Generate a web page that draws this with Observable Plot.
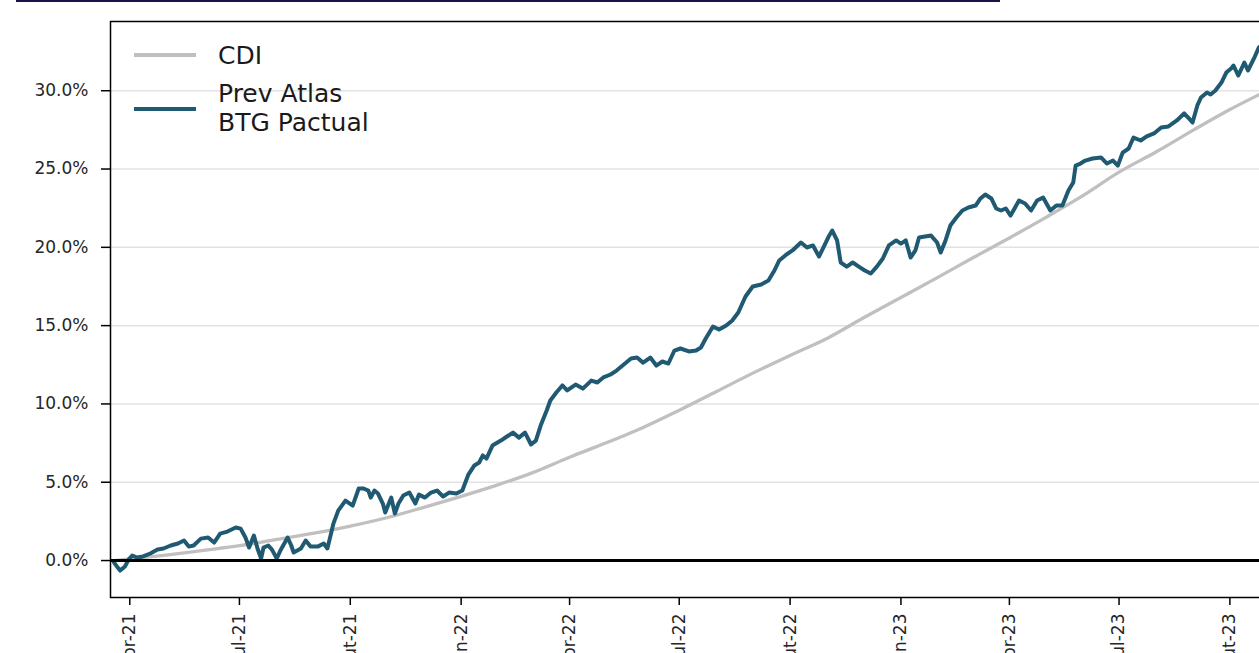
<!DOCTYPE html>
<html><head><meta charset="utf-8">
<script src="https://cdn.jsdelivr.net/npm/d3@7"></script>
<script src="https://cdn.jsdelivr.net/npm/@observablehq/plot@0.6"></script>
<style>
html,body{margin:0;padding:0;overflow:hidden;background:#fff;}
#wrap{position:relative;width:1300px;height:700px;font-family:"DejaVu Sans",sans-serif;}
#titleLine{position:absolute;left:16px;top:0;width:984px;height:2px;background:#1c1048;}
#chart{position:absolute;left:0;top:0;}
.sw{position:absolute;left:134px;width:62px;height:4px;}
.lt{position:absolute;left:218px;font-size:25px;line-height:29px;color:#1a1a1a;white-space:nowrap;}
</style></head><body>
<div id="wrap">
<div id="chart"></div>
<div id="titleLine"></div>
<div class="sw" style="top:53px;background:#c0c0c0"></div>
<div class="lt" style="top:41px">CDI</div>
<div class="sw" style="top:107px;background:#1f5a72"></div>
<div class="lt" style="top:79px">Prev Atlas</div>
<div class="lt" style="top:108px">BTG Pactual</div>
</div>
<script>
const fundDates = ["2021-03-19","2021-03-22","2021-03-24","2021-03-28","2021-03-31","2021-04-03","2021-04-07","2021-04-12","2021-04-18","2021-04-24","2021-04-29","2021-05-05","2021-05-11","2021-05-16","2021-05-20","2021-05-24","2021-05-30","2021-06-05","2021-06-10","2021-06-15","2021-06-21","2021-06-28","2021-07-02","2021-07-06","2021-07-09","2021-07-13","2021-07-16","2021-07-19","2021-07-21","2021-07-25","2021-07-28","2021-08-01","2021-08-04","2021-08-10","2021-08-13","2021-08-15","2021-08-21","2021-08-25","2021-08-29","2021-09-04","2021-09-09","2021-09-12","2021-09-15","2021-09-17","2021-09-21","2021-09-27","2021-10-03","2021-10-08","2021-10-12","2021-10-16","2021-10-18","2021-10-21","2021-10-24","2021-10-28","2021-10-30","2021-11-04","2021-11-07","2021-11-10","2021-11-14","2021-11-19","2021-11-24","2021-11-27","2021-12-02","2021-12-07","2021-12-12","2021-12-17","2021-12-22","2021-12-28","2022-01-02","2022-01-07","2022-01-12","2022-01-16","2022-01-19","2022-01-22","2022-01-27","2022-02-03","2022-02-08","2022-02-13","2022-02-18","2022-02-23","2022-02-28","2022-03-04","2022-03-08","2022-03-13","2022-03-16","2022-03-21","2022-03-26","2022-03-30","2022-04-06","2022-04-12","2022-04-19","2022-04-24","2022-04-29","2022-05-05","2022-05-10","2022-05-15","2022-05-22","2022-05-27","2022-06-01","2022-06-07","2022-06-12","2022-06-17","2022-06-22","2022-06-27","2022-07-02","2022-07-09","2022-07-15","2022-07-19","2022-07-23","2022-07-29","2022-08-03","2022-08-09","2022-08-14","2022-08-19","2022-08-25","2022-08-31","2022-09-07","2022-09-13","2022-09-18","2022-09-22","2022-09-28","2022-10-03","2022-10-10","2022-10-15","2022-10-20","2022-10-25","2022-10-29","2022-11-02","2022-11-05","2022-11-09","2022-11-12","2022-11-17","2022-11-22","2022-11-27","2022-12-02","2022-12-07","2022-12-12","2022-12-17","2022-12-22","2022-12-28","2023-01-01","2023-01-05","2023-01-09","2023-01-13","2023-01-16","2023-01-21","2023-01-26","2023-01-31","2023-02-03","2023-02-07","2023-02-11","2023-02-16","2023-02-21","2023-02-26","2023-03-04","2023-03-08","2023-03-12","2023-03-17","2023-03-21","2023-03-25","2023-03-29","2023-04-02","2023-04-09","2023-04-14","2023-04-19","2023-04-24","2023-04-29","2023-05-05","2023-05-10","2023-05-15","2023-05-20","2023-05-24","2023-05-26","2023-05-30","2023-06-03","2023-06-09","2023-06-16","2023-06-21","2023-06-26","2023-06-30","2023-07-04","2023-07-09","2023-07-13","2023-07-19","2023-07-24","2023-07-30","2023-08-05","2023-08-11","2023-08-18","2023-08-24","2023-08-28","2023-08-31","2023-09-04","2023-09-07","2023-09-12","2023-09-15","2023-09-19","2023-09-24","2023-09-28","2023-10-02","2023-10-04","2023-10-08","2023-10-13","2023-10-16","2023-10-21","2023-10-25","2023-10-28"];
const fundValues = [-0.13,-0.45,-0.64,-0.38,0.06,0.32,0.19,0.26,0.45,0.70,0.77,0.96,1.09,1.28,0.89,0.96,1.40,1.47,1.15,1.72,1.85,2.11,2.04,1.47,0.83,1.60,0.77,0.13,0.83,0.96,0.70,0.13,0.64,1.47,0.96,0.51,0.77,1.28,0.89,0.89,1.09,0.77,1.72,2.36,3.19,3.83,3.51,4.60,4.60,4.47,4.02,4.47,4.28,3.64,3.07,4.02,3.00,3.64,4.15,4.34,3.64,4.21,4.02,4.34,4.47,4.09,4.34,4.28,4.47,5.49,6.07,6.26,6.71,6.51,7.34,7.66,7.92,8.17,7.85,8.17,7.41,7.66,8.62,9.58,10.22,10.73,11.18,10.86,11.24,10.98,11.49,11.37,11.69,11.88,12.13,12.45,12.90,12.96,12.64,12.96,12.45,12.71,12.58,13.41,13.54,13.35,13.41,13.60,14.18,14.94,14.75,15.01,15.33,15.84,16.86,17.50,17.63,17.88,18.52,19.16,19.54,19.80,20.31,19.99,20.12,19.41,20.05,20.69,21.07,20.44,19.03,18.77,19.03,18.77,18.52,18.33,18.77,19.29,20.12,20.44,20.24,20.44,19.35,19.80,20.63,20.69,20.75,20.31,19.67,20.44,21.39,21.90,22.35,22.54,22.67,23.12,23.37,23.12,22.48,22.35,22.48,22.03,22.99,22.80,22.35,22.99,23.18,22.35,22.67,22.67,23.63,24.14,25.22,25.35,25.54,25.67,25.74,25.35,25.54,25.22,26.05,26.31,27.01,26.82,27.08,27.27,27.65,27.72,28.10,28.55,28.23,27.97,29.06,29.57,29.89,29.76,30.01,30.52,31.16,31.42,31.61,30.97,31.80,31.29,32.06,32.76,32.95];

const cdiDates = ["2021-03-19","2021-04-01","2021-05-01","2021-06-01","2021-07-01","2021-08-01","2021-09-01","2021-10-01","2021-11-01","2021-12-01","2022-01-01","2022-02-01","2022-03-01","2022-04-01","2022-05-01","2022-06-01","2022-07-01","2022-08-01","2022-09-01","2022-10-01","2022-11-01","2022-12-01","2023-01-01","2023-02-01","2023-03-01","2023-04-01","2023-05-01","2023-06-01","2023-07-01","2023-08-01","2023-09-01","2023-10-01","2023-10-28"];
const cdiValues = [0,0.1,0.35,0.65,0.95,1.35,1.75,2.2,2.75,3.4,4.1,4.85,5.6,6.6,7.5,8.5,9.6,10.8,12.0,13.1,14.2,15.5,16.8,18.1,19.3,20.6,21.9,23.3,24.8,26.1,27.5,28.8,29.85];

const tickDates = ["2021-04-01","2021-07-01","2021-10-01","2022-01-01","2022-04-01","2022-07-01","2022-10-01","2023-01-01","2023-04-01","2023-07-01","2023-10-01"];
const tickLabels = ["abr-21","jul-21","out-21","jan-22","abr-22","jul-22","out-22","jan-23","abr-23","jul-23","out-23"];
const yTicks = [0,5,10,15,20,25,30];

const fund = fundDates.map((d,i)=>({date:new Date(d), value:fundValues[i]}));
const cdi = cdiDates.map((d,i)=>({date:new Date(d), value:cdiValues[i]}));
const xTicks = tickDates.map(d=>new Date(d));

const chart = Plot.plot({
  width: 1300, height: 700,
  marginLeft: 110, marginRight: 20, marginTop: 21, marginBottom: 103,
  style: {fontFamily: '"DejaVu Sans", sans-serif', fontSize: "17px", color: "#262626", background: "transparent"},
  x: {type: "utc", domain: [new Date("2021-03-16"), new Date("2023-11-12")]},
  y: {domain: [-2.36, 34.42]},
  marks: [
    Plot.gridY(yTicks, {stroke: "#e2e2e2", strokeOpacity: 1, strokeWidth: 1.5}),
    Plot.line(cdi, {x: "date", y: "value", stroke: "#c0c0c0", strokeWidth: 3.3, curve: "monotone-x"}),
    Plot.line(fund, {x: "date", y: "value", stroke: "#1f5a72", strokeWidth: 4, strokeLinejoin: "round"}),
    Plot.ruleY([0], {stroke: "black", strokeWidth: 3}),
    Plot.frame({stroke: "black", strokeWidth: 1.5}),
    Plot.axisY({ticks: yTicks, tickFormat: d => d.toFixed(1) + "%", tickSize: 9, tickPadding: 13, stroke: "black", strokeWidth: 1.5, label: null}),
    Plot.axisX({ticks: xTicks, tickFormat: d => tickLabels[xTicks.findIndex(t => +t === +d)], tickRotate: -90, tickSize: 8, tickPadding: 8, stroke: "black", strokeWidth: 1.5, label: null})
  ]
});
document.getElementById("chart").appendChild(chart);
</script>
</body></html>
